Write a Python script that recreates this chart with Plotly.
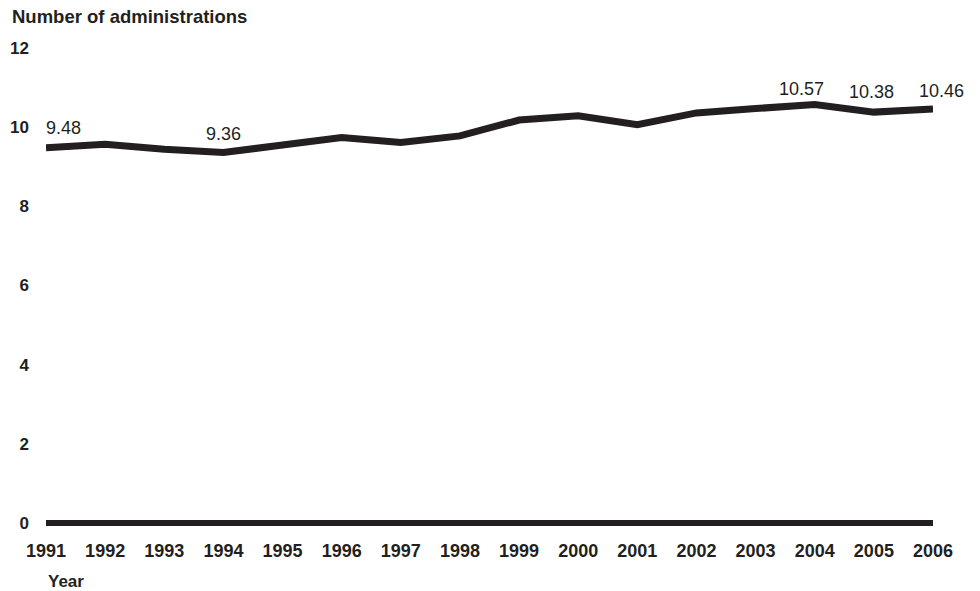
import plotly.graph_objects as go

years = list(range(1991, 2007))
values = [9.48, 9.57, 9.44, 9.36, 9.55, 9.74, 9.61, 9.78, 10.18, 10.29,
          10.06, 10.36, 10.47, 10.57, 10.38, 10.46]
label_years = [1991, 1994, 2004, 2005, 2006]
label_texts = ["9.48", "9.36", "10.57", "10.38", "10.46"]
y_ticks = [0, 2, 4, 6, 8, 10, 12]

FONT = "Liberation Sans, Arial, Helvetica, sans-serif"

fig = go.Figure()
fig.add_trace(go.Scatter(
    x=years, y=values, mode="lines",
    line=dict(color="#231f20", width=7),
    hoverinfo="skip", showlegend=False, cliponaxis=False,
))

label_shift = {1991: (17, 20), 1994: (0, 19), 2004: (-13, 16), 2005: (-2, 20), 2006: (8, 18)}
for yr, txt in zip(label_years, label_texts):
    v = values[years.index(yr)]
    dx, dy = label_shift[yr]
    fig.add_annotation(x=yr, y=v, text=txt, showarrow=False,
                       xshift=dx, yshift=dy,
                       font=dict(family=FONT, size=18, color="#231f20"))

fig.add_annotation(xref="paper", yref="paper", x=-36/887, y=1 + 31/475,
                   xanchor="left", yanchor="middle", showarrow=False,
                   text="<b>Number of administrations</b>",
                   font=dict(family=FONT, size=18.5, color="#231f20"))
fig.add_annotation(xref="paper", yref="paper", x=0, y=-58/475,
                   xanchor="left", yanchor="middle", showarrow=False,
                   text="<b>Year</b>",
                   font=dict(family=FONT, size=17, color="#231f20"))

fig.update_layout(
    width=980, height=591,
    margin=dict(l=46, r=47, t=48, b=68),
    paper_bgcolor="white", plot_bgcolor="white",
    xaxis=dict(range=[1991, 2006], tickvals=years,
               ticktext=[f"<b>{y}</b>" for y in years],
               showgrid=False, zeroline=False, showline=False,
               ticks="", ticklabelstandoff=15, automargin=False,
               tickfont=dict(family=FONT, size=18, color="#231f20")),
    yaxis=dict(range=[0, 12], tickvals=y_ticks,
               ticktext=[f"<b>{t}</b>" for t in y_ticks],
               showgrid=False, zeroline=True, zerolinecolor="#231f20",
               zerolinewidth=6, showline=False, ticks="",
               ticklabelstandoff=16, automargin=False,
               tickfont=dict(family=FONT, size=17, color="#231f20")),
)

fig.write_html("out.html",
               config={"displayModeBar": False},
               post_script="document.body.style.margin='0';document.body.style.overflow='hidden';")
